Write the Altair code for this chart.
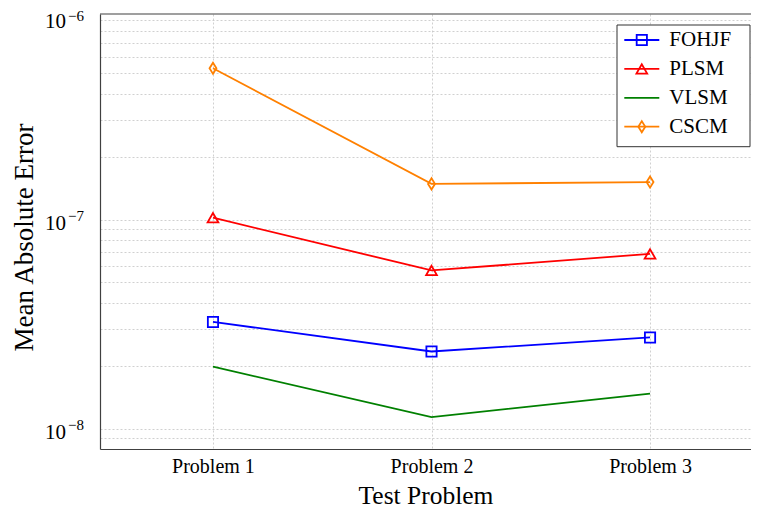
import json
import altair as alt
import pandas as pd

# ---------------- data ----------------
problems = ["Problem 1", "Problem 2", "Problem 3"]
series = ["FOHJF", "PLSM", "VLSM", "CSCM"]
fohjf = [3.24e-8, 2.34e-8, 2.73e-8]
plsm = [1.02e-7, 5.71e-8, 6.85e-8]
vlsm = [1.98e-8, 1.137e-8, 1.47e-8]
cscm = [5.28e-7, 1.48e-7, 1.51e-7]
y_label_exponents = [-8, -7, -6]
y_domain = [8e-9, 9.6e-7]

values = {"FOHJF": fohjf, "PLSM": plsm, "VLSM": vlsm, "CSCM": cscm}
rows = []
for s in series:
    for i, p in enumerate(problems):
        rows.append({"series": s, "problem": p, "idx": i + 1, "mae": values[s][i]})
df = pd.DataFrame(rows)

# ---------------- style ----------------
FONT = "Liberation Serif"
W, H = 651, 435
colors = ["#0000ff", "#ff0000", "#008000", "#ff8000"]
diamond = "M0,-1L0.62,0L0,1L-0.62,0Z"
marked = ["FOHJF", "PLSM", "CSCM"]
shapes = ["square", "triangle-up", diamond]
sizes = [105, 125, 190]

color_scale = alt.Scale(domain=series, range=colors)
shape_scale = alt.Scale(domain=marked, range=shapes)
size_scale = alt.Scale(domain=marked, range=sizes)

grid_vals = []
for e in (-9, -8, -7, -6):
    for k in range(1, 10):
        v = float(f"{k}e{e}")
        if y_domain[0] * 1.0001 < v <= y_domain[1] * 0.9999:
            grid_vals.append(v)

y_scale = alt.Scale(type="log", domain=y_domain, nice=False)
x_scale = alt.Scale(domain=[0.483, 3.462], nice=False, zero=False)

x_enc = alt.X(
    "idx:Q",
    scale=x_scale,
    axis=alt.Axis(
        values=[1, 2, 3],
        labelExpr=json.dumps(problems) + "[datum.value - 1]",
        title="Test Problem",
        grid=True,
        ticks=False,
        tickSize=0,
        labelPadding=7,
        labelFontSize=20,
        titleFontSize=25.5,
        titlePadding=7,
    ),
)
y_enc = alt.Y(
    "mae:Q",
    scale=y_scale,
    axis=alt.Axis(
        values=grid_vals,
        labels=False,
        ticks=False,
        grid=True,
        title="Mean Absolute Error",
        titleFontSize=27,
        titleX=-76,
        titleY=223,
        titleAngle=270,
        titleAlign="center",
        titleBaseline="middle",
    ),
)
color_enc = alt.Color("series:N", scale=color_scale, legend=None)
shape_enc = alt.Shape("series:N", scale=shape_scale, legend=None)
size_enc = alt.Size("series:N", scale=size_scale, legend=None)

base = alt.Chart(df)
lines = base.mark_line(strokeWidth=1.8).encode(
    x=x_enc, y=y_enc, color=color_enc, order="idx:Q"
)
points = (
    base.transform_filter(alt.FieldOneOfPredicate(field="series", oneOf=marked))
    .mark_point(filled=False, strokeWidth=1.8, opacity=1)
    .encode(x=x_enc, y=y_enc, color=color_enc, shape=shape_enc, size=size_enc)
)

# y tick labels as 10^e
lab = pd.DataFrame({"e": y_label_exponents})
lab_base = alt.Chart(lab).transform_calculate(
    mae="pow(10, datum.e)", t="'\u2212' + abs(datum.e)"
)
y_lab_enc = alt.Y("mae:Q", scale=y_scale)
inner = lab_base.transform_filter("datum.e < -6")
top = lab_base.transform_filter("datum.e >= -6")
tens = inner.mark_text(
    align="right", baseline="alphabetic", dy=10, fontSize=21, font=FONT, color="black"
).encode(x=alt.value(-34), y=y_lab_enc, text=alt.value("10"))
exps = inner.mark_text(
    align="left", baseline="alphabetic", dy=1, fontSize=15, font=FONT, color="black"
).encode(x=alt.value(-32), y=y_lab_enc, text="t:N")
tens_top = top.mark_text(
    align="right", baseline="alphabetic", dy=18, fontSize=21, font=FONT, color="black"
).encode(x=alt.value(-34), y=y_lab_enc, text=alt.value("10"))
exps_top = top.mark_text(
    align="left", baseline="alphabetic", dy=10.5, fontSize=15, font=FONT, color="black"
).encode(x=alt.value(-32), y=y_lab_enc, text="t:N")

# top frame line
dummy = pd.DataFrame({"k": [0]})
top_frame = alt.Chart(dummy).mark_rule(color="#404040", strokeWidth=1.2).encode(
    x=alt.value(0), x2=alt.value(W), y=alt.value(0)
)

# legend
leg = pd.DataFrame({"series": series, "order": list(range(len(series)))})
leg_base = alt.Chart(leg).transform_calculate(ly="26 + 28.9 * datum.order")
ly = alt.Y("ly:Q", scale=None, axis=None)
box = alt.Chart(dummy).mark_rect(fill="white", stroke="#333333", strokeWidth=1).encode(
    x=alt.value(517), x2=alt.value(650), y=alt.value(11), y2=alt.value(132.7)
)
leg_lines = leg_base.mark_rule(strokeWidth=1.8).encode(
    x=alt.value(524.3), x2=alt.value(559.3), y=ly, color=color_enc
)
leg_pts = (
    leg_base.transform_filter(alt.FieldOneOfPredicate(field="series", oneOf=marked))
    .mark_point(filled=False, strokeWidth=1.8, opacity=1)
    .encode(x=alt.value(541.8), y=ly, color=color_enc, shape=shape_enc, size=size_enc)
)
leg_text = leg_base.mark_text(
    align="left", baseline="middle", fontSize=21, font=FONT, color="black"
).encode(x=alt.value(569.3), y=ly, text="series:N")

chart = (
    alt.layer(
        lines, points, top_frame, tens, exps, tens_top, exps_top,
        box, leg_lines, leg_pts, leg_text,
    )
    .properties(
        width=W,
        height=H,
        autosize=alt.AutoSizeParams(type="none"),
        padding={"left": 92, "top": 6, "right": 0, "bottom": 60},
        background="white",
    )
    .configure_view(stroke=None)
    .configure_axis(
        gridColor="#c4c4c4",
        gridDash=[2, 2],
        gridWidth=0.8,
        domainColor="#404040",
        domainWidth=1.2,
        labelFont=FONT,
        titleFont=FONT,
        labelColor="black",
        titleColor="black",
        titleFontWeight="normal",
    )
)

chart.save("out.html", embed_options={"renderer": "svg", "actions": False})
